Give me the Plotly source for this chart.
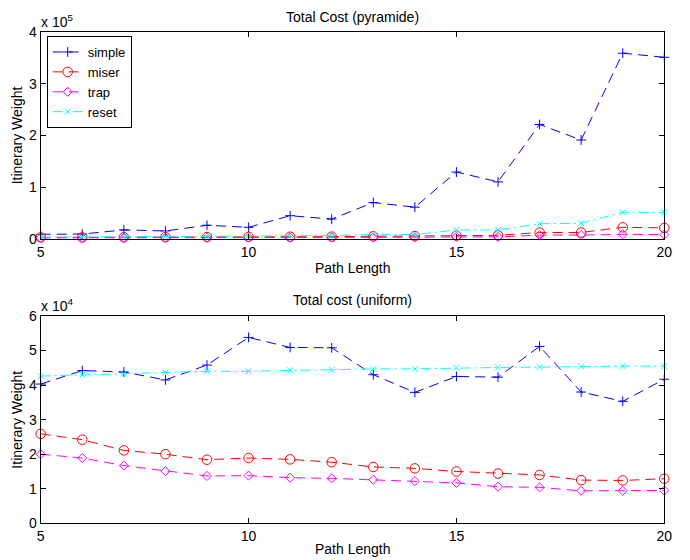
import plotly.graph_objects as go

path_length = list(range(5, 21))

# Total Cost (pyramide)
pyr_simple = [8500, 9000, 17000, 15000, 26000, 22000, 44500, 38000, 70000, 61000, 129000, 110000, 221000, 191000, 359000, 351000]
pyr_miser = [2500, 2500, 2800, 3000, 3200, 3500, 3800, 4000, 4500, 5000, 6000, 6500, 12000, 12000, 22000, 21000]
pyr_trap = [1500, 1500, 1700, 1800, 2000, 2000, 2200, 2300, 2500, 2800, 3500, 3500, 7000, 7000, 8500, 8000]
pyr_reset = [3000, 3500, 4000, 4000, 5000, 5000, 6000, 6000, 8500, 8000, 17000, 17000, 29000, 30000, 51000, 51000]

# Total cost (uniform)
uni_simple = [40300, 44200, 43800, 41500, 45800, 53800, 50900, 50800, 43000, 37900, 42500, 42300, 51200, 38000, 35300, 41700]
uni_miser = [25900, 24200, 21100, 20000, 18400, 18900, 18500, 17700, 16300, 15900, 15000, 14400, 14000, 12500, 12400, 12900]
uni_trap = [20000, 18900, 16700, 15100, 13700, 13800, 13200, 13000, 12600, 12200, 11700, 10600, 10400, 9400, 9400, 9500]
uni_reset = [42600, 43000, 43300, 43700, 44000, 44000, 44300, 44400, 44700, 44700, 45000, 45100, 45200, 45400, 45500, 45500]

series_names = ["simple", "miser", "trap", "reset"]
x_ticks = [5, 10, 15, 20]
top_y_ticks = [0, 100000, 200000, 300000, 400000]
top_y_labels = ["0", "1", "2", "3", "4"]
bot_y_ticks = [0, 10000, 20000, 30000, 40000, 50000, 60000]
bot_y_labels = ["0", "1", "2", "3", "4", "5", "6"]

DASH = "10px,6px"
DASHDOT = "10px,4px,2px,4px"
styles = {
    "simple": dict(color="#0000FF", dash=DASH, symbol="cross-thin-open", size=7),
    "miser": dict(color="#FF0000", dash=DASH, symbol="circle-open", size=9.5),
    "trap": dict(color="#FF00FF", dash=DASH, symbol="diamond-open", size=7),
    "reset": dict(color="#00FFFF", dash=DASHDOT, symbol="x-thin-open", size=6),
}

FONT = "Liberation Sans, Arial, Helvetica, sans-serif"

fig = go.Figure()
top_data = [pyr_simple, pyr_miser, pyr_trap, pyr_reset]
bot_data = [uni_simple, uni_miser, uni_trap, uni_reset]

for name, ys in zip(series_names, top_data):
    s = styles[name]
    fig.add_trace(go.Scatter(
        x=path_length, y=ys, name=name, mode="lines+markers",
        line=dict(color=s["color"], dash=s["dash"], width=1),
        marker=dict(symbol=s["symbol"], size=s["size"], color=s["color"], line=dict(width=1, color=s["color"])),
        cliponaxis=False, xaxis="x", yaxis="y", showlegend=True,
    ))
for name, ys in zip(series_names, bot_data):
    s = styles[name]
    fig.add_trace(go.Scatter(
        x=path_length, y=ys, name=name, mode="lines+markers",
        line=dict(color=s["color"], dash=s["dash"], width=1),
        marker=dict(symbol=s["symbol"], size=s["size"], color=s["color"], line=dict(width=1, color=s["color"])),
        cliponaxis=False, xaxis="x2", yaxis="y2", showlegend=False,
    ))

# the page body adds an 8px offset; paper coordinates below are window px minus 8
OFF = 8
W, H = 690 - OFF, 560 - OFF
xl, xr = 40.7 - OFF, 664.3 - OFF
top_t, top_b = 32 - OFF, 238.7 - OFF
bot_t, bot_b = 316 - OFF, 523.3 - OFF


def px(x):
    return (x - OFF) / W


def py(y):
    return 1 - (y - OFF) / H


axis_common = dict(showline=True, linecolor="black", linewidth=1, mirror="ticks",
                   ticks="inside", ticklen=5, tickcolor="black", showgrid=False,
                   zeroline=False, automargin=False,
                   tickfont=dict(size=14, color="black", family=FONT))

fig.update_layout(
    width=W, height=H,
    margin=dict(l=0, r=0, t=0, b=0, autoexpand=False),
    paper_bgcolor="white", plot_bgcolor="white",
    font=dict(family=FONT, color="black"),
    xaxis=dict(domain=[xl / W, xr / W], range=[5, 20], tickvals=x_ticks, anchor="y", **axis_common),
    yaxis=dict(domain=[1 - top_b / H, 1 - top_t / H], range=[0, 400000], tickvals=top_y_ticks,
               ticktext=top_y_labels, anchor="x", **axis_common),
    xaxis2=dict(domain=[xl / W, xr / W], range=[5, 20], tickvals=x_ticks, anchor="y2", **axis_common),
    yaxis2=dict(domain=[1 - bot_b / H, 1 - bot_t / H], range=[0, 60000], tickvals=bot_y_ticks,
                ticktext=bot_y_labels, anchor="x2", **axis_common),
    legend=dict(x=px(46.7), y=py(36), xanchor="left", yanchor="top",
                bordercolor="black", borderwidth=1, bgcolor="white",
                font=dict(size=13, family=FONT, color="black"),
                itemwidth=30, tracegroupgap=0),
)

cx = px(352.5)
ann = [
    dict(text="Total Cost (pyramide)", x=cx, y=py(17)),
    dict(text="Total cost (uniform)", x=cx, y=py(300)),
    dict(text="Path Length", x=cx, y=py(268)),
    dict(text="Path Length", x=cx, y=py(549)),
]
annotations = []
for a in ann:
    annotations.append(dict(text=a["text"], x=a["x"], y=a["y"], xref="paper", yref="paper",
                            xanchor="center", yanchor="middle", showarrow=False,
                            font=dict(size=14, family=FONT, color="black")))
for yc in [(32 + 238.7) / 2, (316 + 523.3) / 2]:
    annotations.append(dict(text="Itinerary Weight", x=px(17), y=py(yc), xref="paper", yref="paper",
                            xanchor="center", yanchor="middle", textangle=-90, showarrow=False,
                            font=dict(size=14, family=FONT, color="black")))
annotations.append(dict(text="x 10<sup>5</sup>", x=px(39), y=py(21), xref="paper", yref="paper",
                        xanchor="left", yanchor="middle", showarrow=False,
                        font=dict(size=14, family=FONT, color="black")))
annotations.append(dict(text="x 10<sup>4</sup>", x=px(39), y=py(305), xref="paper", yref="paper",
                        xanchor="left", yanchor="middle", showarrow=False,
                        font=dict(size=14, family=FONT, color="black")))
fig.update_layout(annotations=annotations)

fig.write_html("out.html")
